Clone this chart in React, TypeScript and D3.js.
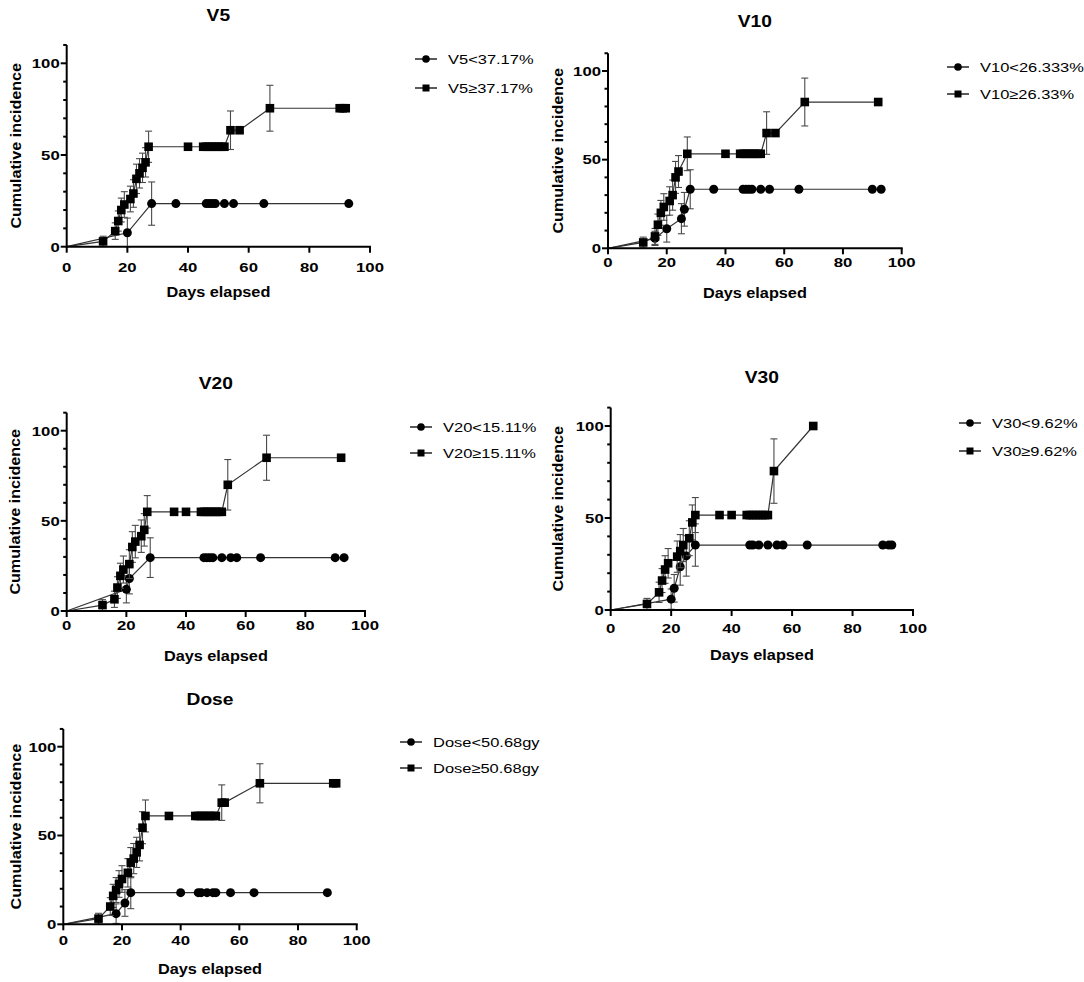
import React from 'react';
import * as d3 from 'd3';

// [day, cumulative incidence %, SE] ; SE 0 = censored point, no error bar
const v5Low = [[0, 0, 0], [20, 7.6, 8], [28, 23.5, 11.8], [36, 23.5, 0], [46, 23.5, 0], [47, 23.5, 0], [48, 23.5, 0], [49, 23.5, 0], [52, 23.5, 0], [55, 23.5, 0], [65, 23.5, 0], [93, 23.5, 0]];
const v5High = [[0, 0, 0], [12, 2.9, 2.8], [16, 8.5, 4.5], [17, 14, 5.5], [18, 20, 6.5], [19, 23, 7], [21, 26, 7], [22, 29, 7.5], [23, 37, 8], [24, 40, 8], [25, 43, 8], [26, 46, 8], [27, 54.5, 8.5], [40, 54.5, 0], [45, 54.5, 0], [46, 54.5, 0], [47, 54.5, 0], [48, 54.5, 0], [49, 54.5, 0], [50, 54.5, 0], [51, 54.5, 0], [52, 54.5, 0], [54, 63.5, 10.5], [57, 63.5, 0], [67, 75.5, 12.5], [90, 75.5, 0], [91, 75.5, 0], [92, 75.5, 0]];

const v10Low = [[0, 0, 0], [16, 5.6, 4], [20, 11, 7.5], [25, 16.7, 8.5], [26, 22, 9.5], [28, 33.3, 11], [36, 33.3, 0], [46, 33.3, 0], [47, 33.3, 0], [48, 33.3, 0], [49, 33.3, 0], [52, 33.3, 0], [55, 33.3, 0], [65, 33.3, 0], [90, 33.3, 0], [93, 33.3, 0]];
const v10High = [[0, 0, 0], [12, 3.3, 3], [16, 6.7, 4.5], [17, 13.3, 6], [18, 20, 7], [19, 23.3, 7.5], [21, 26.7, 8], [22, 30, 8.5], [23, 40, 9], [24, 43.3, 9], [27, 53.3, 9.5], [40, 53.3, 0], [45, 53.3, 0], [46, 53.3, 0], [47, 53.3, 0], [48, 53.3, 0], [49, 53.3, 0], [50, 53.3, 0], [51, 53.3, 0], [52, 53.3, 0], [54, 65, 12], [57, 65, 0], [67, 82.5, 13.5], [92, 82.5, 0]];

const v20Low = [[0, 0, 0], [20, 12, 7.5], [21, 18, 8.5], [28, 29.6, 11], [46, 29.6, 0], [47, 29.6, 0], [48, 29.6, 0], [49, 29.6, 0], [52, 29.6, 0], [55, 29.6, 0], [57, 29.6, 0], [65, 29.6, 0], [90, 29.6, 0], [93, 29.6, 0]];
const v20High = [[0, 0, 0], [12, 3.3, 3], [16, 6.5, 4.5], [17, 13, 6], [18, 19.5, 7], [19, 23, 7.5], [21, 26, 8], [22, 35.5, 8.5], [23, 38.5, 9], [25, 41.5, 9], [26, 45, 9], [27, 55, 9], [36, 55, 0], [40, 55, 0], [45, 55, 0], [46, 55, 0], [47, 55, 0], [48, 55, 0], [49, 55, 0], [50, 55, 0], [51, 55, 0], [52, 55, 0], [54, 70, 14], [67, 85, 12.5], [92, 85, 0]];

const v30Low = [[0, 0, 0], [20, 5.9, 5.5], [21, 11.8, 7.5], [23, 23.5, 10], [25, 29.4, 11], [28, 35.3, 11.5], [46, 35.3, 0], [47, 35.3, 0], [49, 35.3, 0], [52, 35.3, 0], [55, 35.3, 0], [57, 35.3, 0], [65, 35.3, 0], [90, 35.3, 0], [92, 35.3, 0], [93, 35.3, 0]];
const v30High = [[0, 0, 0], [12, 3.3, 3], [16, 9.6, 5.5], [17, 16, 6.5], [18, 22, 7.5], [19, 25.4, 8], [22, 29, 8.5], [23, 32, 9], [24, 35.3, 9], [26, 39, 9.5], [27, 47.6, 9.5], [28, 51.6, 9.5], [36, 51.6, 0], [40, 51.6, 0], [45, 51.6, 0], [46, 51.6, 0], [47, 51.6, 0], [48, 51.6, 0], [49, 51.6, 0], [50, 51.6, 0], [51, 51.6, 0], [52, 51.6, 0], [54, 75.5, 17.5], [67, 100, 0]];

const doseLow = [[0, 0, 0], [18, 6, 5.5], [21, 12, 7.5], [23, 17.8, 9], [40, 17.8, 0], [46, 17.8, 0], [47, 17.8, 0], [49, 17.8, 0], [51, 17.8, 0], [52, 17.8, 0], [57, 17.8, 0], [65, 17.8, 0], [90, 17.8, 0]];
const doseHigh = [[0, 0, 0], [12, 3.2, 3], [16, 10, 5], [17, 16, 6.5], [18, 19.3, 7], [19, 22.7, 7.5], [20, 25.5, 7.5], [22, 29, 8], [23, 34.7, 8.5], [24, 37, 8.5], [25, 40.5, 8.5], [26, 44.7, 9], [27, 54.4, 9], [28, 61, 9], [36, 61, 0], [45, 61, 0], [46, 61, 0], [47, 61, 0], [48, 61, 0], [49, 61, 0], [50, 61, 0], [51, 61, 0], [52, 61, 0], [54, 68.5, 10], [55, 68.5, 0], [67, 79.4, 11], [92, 79.4, 0], [93, 79.4, 0]];

const xTicks = [0, 20, 40, 60, 80, 100];
const yMajor = [0, 50, 100];
const yMinor = [10, 20, 30, 40, 60, 70, 80, 90, 110];

const FONT = "'Liberation Sans', Arial, Helvetica, sans-serif";

const panels = [
  { title: 'V5', low: v5Low, high: v5High, lowLabel: 'V5<37.17%', highLabel: 'V5≥37.17%',
    x0: 66.7, x1: 370, y0: 246.7, y1: 63.3, titleY: 21, tickDy: 25, yLabX: 20.5,
    lgX: 415, lgY: [59, 88] },
  { title: 'V10', low: v10Low, high: v10High, lowLabel: 'V10<26.333%', highLabel: 'V10≥26.33%',
    x0: 608, x1: 901.7, y0: 248.3, y1: 71, titleY: 27, tickDy: 19, yLabX: 562.5,
    lgX: 947, lgY: [67, 94] },
  { title: 'V20', low: v20Low, high: v20High, lowLabel: 'V20<15.11%', highLabel: 'V20≥15.11%',
    x0: 66.7, x1: 365, y0: 611, y1: 430.7, titleY: 389, tickDy: 19, yLabX: 19.5,
    lgX: 410, lgY: [427, 453] },
  { title: 'V30', low: v30Low, high: v30High, lowLabel: 'V30<9.62%', highLabel: 'V30≥9.62%',
    x0: 610.7, x1: 913, y0: 610, y1: 426, titleY: 383, tickDy: 23, yLabX: 563,
    lgX: 959, lgY: [423, 451] },
  { title: 'Dose', low: doseLow, high: doseHigh, lowLabel: 'Dose<50.68gy', highLabel: 'Dose≥50.68gy',
    x0: 63.3, x1: 356.7, y0: 924.3, y1: 746.7, titleY: 705, tickDy: 21, yLabX: 20.5,
    lgX: 400, lgY: [742, 768] },
];

const Txt = ({ x, y, size, bold = false, sx = 1, rotate = 0, anchor = 'middle', children }: any) => (
  <text
    transform={`translate(${x},${y}) rotate(${rotate}) scale(${sx},1)`}
    fontSize={size}
    fontWeight={bold ? 'bold' : 'normal'}
    fontFamily={FONT}
    textAnchor={anchor}
    fill="#000"
  >
    {children}
  </text>
);

const Marker = ({ kind, x, y }: any) => (kind === 'circle'
  ? <circle cx={x} cy={y} r={4.5} fill="#000" />
  : <rect x={x - 4.3} y={y - 4.3} width={8.6} height={8.6} fill="#000" />);

const Series = ({ data, kind, xs, ys }: any) => {
  const line = d3.line<any>().x((d) => xs(d[0])).y((d) => ys(d[1]));
  const withErr = data.filter((d: any) => d[2] > 0);
  return (
    <g>
      <path d={line(data) || ''} fill="none" stroke="#333" strokeWidth={1.2} />
      {withErr.map((d: any, i: number) => {
        const cx = xs(d[0]);
        const lo = ys(Math.max(0, d[1] - d[2]));
        const hi = ys(d[1] + d[2]);
        return (
          <g key={i} stroke="#4a4a4a" strokeWidth={1.1}>
            <line x1={cx} x2={cx} y1={lo} y2={hi} />
            <line x1={cx - 3.5} x2={cx + 3.5} y1={lo} y2={lo} />
            <line x1={cx - 3.5} x2={cx + 3.5} y1={hi} y2={hi} />
          </g>
        );
      })}
      {data.slice(1).map((d: any, i: number) => (
        <Marker key={i} kind={kind} x={xs(d[0])} y={ys(d[1])} />
      ))}
    </g>
  );
};

const Panel = ({ p }: any) => {
  const xs = d3.scaleLinear().domain([0, 100]).range([p.x0, p.x1]);
  const ys = d3.scaleLinear().domain([0, 100]).range([p.y0, p.y1]);
  const top = ys(110);
  const midX = (p.x0 + p.x1) / 2;
  const midY = (p.y0 + top) / 2;
  return (
    <g>
      <Txt x={midX} y={p.titleY} size={16} bold sx={1.2}>{p.title}</Txt>

      <Series data={p.low} kind="circle" xs={xs} ys={ys} />
      <Series data={p.high} kind="square" xs={xs} ys={ys} />

      {/* axes */}
      <g stroke="#000" strokeWidth={2}>
        <line x1={p.x0} x2={p.x1 + 1} y1={p.y0} y2={p.y0} />
        <line x1={p.x0} x2={p.x0} y1={p.y0 + 1} y2={top} />
        {xTicks.map((t) => <line key={t} x1={xs(t)} x2={xs(t)} y1={p.y0} y2={p.y0 + 6} />)}
        {yMajor.map((t) => <line key={t} x1={p.x0 - 6} x2={p.x0} y1={ys(t)} y2={ys(t)} />)}
        {yMinor.map((t) => <line key={t} x1={p.x0 - 3.5} x2={p.x0} y1={ys(t)} y2={ys(t)} />)}
      </g>
      {xTicks.map((t) => (
        <Txt key={t} x={xs(t)} y={p.y0 + p.tickDy} size={13.5} bold sx={1.24}>{t}</Txt>
      ))}
      {yMajor.map((t) => (
        <Txt key={t} x={p.x0 - 7} y={ys(t) + 4.8} size={13.5} bold sx={1.24} anchor="end">{t}</Txt>
      ))}

      <Txt x={midX} y={p.y0 + 50} size={15.5} bold sx={1.05}>Days elapsed</Txt>
      <Txt x={p.yLabX} y={midY} size={15.5} bold sx={1.04} rotate={-90}>Cumulative incidence</Txt>

      {/* legend */}
      {[p.lowLabel, p.highLabel].map((lab: string, i: number) => (
        <g key={lab}>
          <line x1={p.lgX} x2={p.lgX + 22} y1={p.lgY[i]} y2={p.lgY[i]} stroke="#000" strokeWidth={1.3} />
          {i === 0
            ? <circle cx={p.lgX + 11} cy={p.lgY[i]} r={3.8} fill="#000" />
            : <rect x={p.lgX + 7.5} y={p.lgY[i] - 3.5} width={7} height={7} fill="#000" />}
          <Txt x={p.lgX + 33} y={p.lgY[i] + 4.8} size={13.5} sx={1.22} anchor="start">{lab}</Txt>
        </g>
      ))}
    </g>
  );
};

export default function App() {
  return (
    <svg
      width={1084}
      height={982}
      style={{ position: 'absolute', left: 0, top: 0, background: '#fff' }}
    >
      <rect width={1084} height={982} fill="#fff" />
      {panels.map((p) => <Panel key={p.title} p={p} />)}
    </svg>
  );
}
